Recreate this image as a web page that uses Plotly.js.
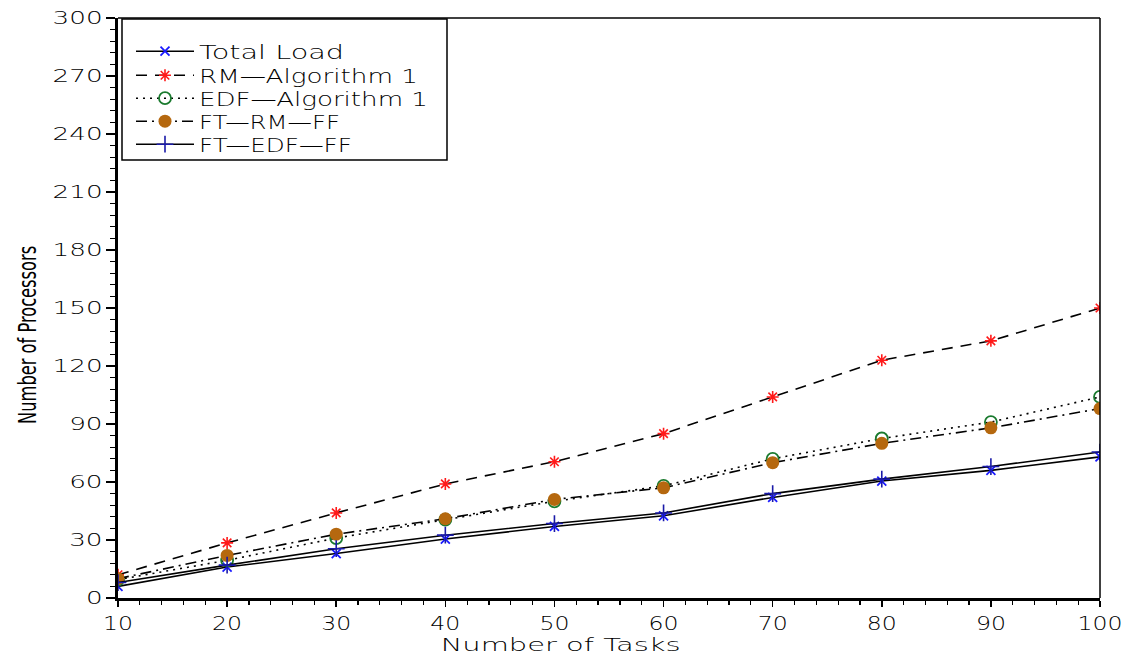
<!DOCTYPE html>
<html>
<head>
<meta charset="utf-8">
<script src="https://cdn.plot.ly/plotly-3.0.1.min.js"></script>
<style>
  html, body { margin: 0; padding: 0; background: #fff; }
  #chart { width: 1134px; height: 655px; }
</style>
</head>
<body>
<div id="chart"></div>
<script>
const tasks = [10, 20, 30, 40, 50, 60, 70, 80, 90, 100];
const totalLoad = [6, 16, 23, 30.5, 37, 42.5, 52, 60.5, 66, 73];
const rmAlgorithm1 = [12, 28.5, 44, 59, 70.5, 85, 104, 123, 133, 150];
const edfAlgorithm1 = [9.5, 19.5, 31, 40.5, 50, 58, 72, 82.5, 91, 104];
const ftRmFf = [10, 22, 33, 41, 51, 57, 70, 80, 88, 98];
const ftEdfFf = [8, 17, 25.5, 32.5, 38.5, 44, 54, 61.5, 68, 75.5];
const seriesNames = ["Total Load", "RM\u2014Algorithm 1", "EDF\u2014Algorithm 1", "FT\u2014RM\u2014FF", "FT\u2014EDF\u2014FF"];
const xTitle = "Number of Tasks";
const yTitle = "Number of Processors";

// styling only (rendered text widths / legend row centres in px)
const legendTextWidths = [145, 219, 229, 141, 153];
const legendRowCenters = [50, 74, 97, 120, 143];

const lineColor = "#000000";
const traces = [
  {
    x: tasks, y: totalLoad, name: seriesNames[0], type: "scatter", mode: "lines+markers",
    line: { color: lineColor, width: 1.6, dash: "solid" },
    marker: { symbol: "x-thin-open", size: 9, color: "#1a1aff", line: { color: "#1a1aff", width: 1.8 } }
  },
  {
    x: tasks, y: rmAlgorithm1, name: seriesNames[1], type: "scatter", mode: "lines+markers",
    line: { color: lineColor, width: 1.6, dash: "11px,8px" },
    marker: { symbol: "asterisk-open", size: 10, color: "#ff1a1a", line: { color: "#ff1a1a", width: 1.6 } }
  },
  {
    x: tasks, y: edfAlgorithm1, name: seriesNames[2], type: "scatter", mode: "lines+markers",
    line: { color: lineColor, width: 1.6, dash: "2px,5px" },
    marker: { symbol: "circle-open", size: 12, color: "#1a7a2e", line: { color: "#1a7a2e", width: 1.8 } }
  },
  {
    x: tasks, y: ftRmFf, name: seriesNames[3], type: "scatter", mode: "lines+markers",
    line: { color: lineColor, width: 1.6, dash: "11px,5px,2px,5px" },
    marker: { symbol: "circle", size: 13, color: "#b5680f", line: { width: 0 } }
  },
  {
    x: tasks, y: ftEdfFf, name: seriesNames[4], type: "scatter", mode: "lines+markers",
    line: { color: lineColor, width: 1.6, dash: "solid" },
    marker: { symbol: "cross-thin-open", size: 12, color: "#1a1aa8", line: { color: "#1a1aa8", width: 1.6 } }
  }
];

const L = 118, R = 1100, T = 18, B = 598;
const px2x = p => (p - L) / (R - L);
const px2y = p => (B - p) / (B - T);
const thinFont = (size) => ({ family: "DejaVu Sans", size: size, color: "#000", weight: 300 });

const layout = {
  width: 1134, height: 655,
  margin: { l: L, r: 1134 - R, t: T, b: 655 - B },
  paper_bgcolor: "#fff", plot_bgcolor: "#fff",
  showlegend: true,
  legend: {
    x: px2x(131), y: 1, xanchor: "left", yanchor: "top",
    bgcolor: "rgba(0,0,0,0)", borderwidth: 0,
    font: thinFont(20),
    itemwidth: 58, tracegroupgap: 0
  },
  xaxis: {
    range: [10, 100], dtick: 10, tick0: 10,
    showgrid: false, zeroline: false,
    showline: true, linecolor: "#000", linewidth: 3,
    ticks: "outside", ticklen: 6, tickwidth: 1.5, tickcolor: "#000",
    minor: { dtick: 2, ticks: "outside", ticklen: 4, tickwidth: 1.2, tickcolor: "#000" },
    tickfont: thinFont(19)
  },
  yaxis: {
    range: [0, 300], dtick: 30, tick0: 0,
    showgrid: false, zeroline: false,
    showline: true, linecolor: "#000", linewidth: 3,
    ticks: "outside", ticklen: 9, tickwidth: 1.5, tickcolor: "#000",
    minor: { dtick: 6, ticks: "outside", ticklen: 5, tickwidth: 1.2, tickcolor: "#000" },
    tickfont: thinFont(17)
  },
  shapes: [
    { type: "line", xref: "paper", yref: "paper", x0: 0, x1: 1, y0: 1, y1: 1, line: { color: "#000", width: 1.5 } },
    { type: "line", xref: "paper", yref: "paper", x0: 1, x1: 1, y0: 0, y1: 1, line: { color: "#000", width: 1.5 } },
    { type: "rect", xref: "paper", yref: "paper", x0: px2x(122), x1: px2x(447), y0: px2y(160), y1: px2y(19),
      line: { color: "#000", width: 1.5 }, fillcolor: "#fff", layer: "above" }
  ],
  annotations: [
    {
      text: xTitle, xref: "paper", yref: "paper",
      x: px2x(560), y: px2y(644), xanchor: "center", yanchor: "middle",
      showarrow: false, font: thinFont(18)
    },
    {
      text: yTitle, xref: "paper", yref: "paper",
      x: px2x(28), y: px2y(335), xanchor: "center", yanchor: "middle",
      textangle: -90, showarrow: false,
      font: { family: "DejaVu Sans Condensed", size: 25, color: "#000" }
    }
  ]
};

function stretch(el, len) {
  el.setAttribute("textLength", len);
  el.setAttribute("lengthAdjust", "spacingAndGlyphs");
}

Plotly.newPlot("chart", traces, layout, { displayModeBar: false, staticPlot: true }).then(gd => {
  gd.querySelectorAll(".ytick text").forEach(t => stretch(t, t.textContent.length * 16.7));
  gd.querySelectorAll(".xtick text").forEach(t => stretch(t, t.textContent.length * 15));
  gd.querySelectorAll(".annotation-text").forEach(t => {
    if (t.textContent === xTitle) stretch(t, 240);
    if (t.textContent === yTitle) stretch(t, 178);
  });
  gd.querySelectorAll(".legend [clip-path]").forEach(e => e.removeAttribute("clip-path"));
  const groups = gd.querySelectorAll(".legend .traces");
  groups.forEach((g, i) => {
    const txt = g.querySelector("text.legendtext");
    if (txt) stretch(txt, legendTextWidths[i]);
    const tr = g.getAttribute("transform") || "";
    const m = tr.match(/translate\(\s*([-\d.e]+)[ ,]+([-\d.e]+)\s*\)/);
    if (!m || !txt) return;
    const r = txt.getBoundingClientRect();
    const cur = r.top + r.height / 2;
    const dy = legendRowCenters[i] - cur + 2;
    g.setAttribute("transform", "translate(" + m[1] + "," + (parseFloat(m[2]) + dy) + ")");
  });
});
</script>
</body>
</html>
